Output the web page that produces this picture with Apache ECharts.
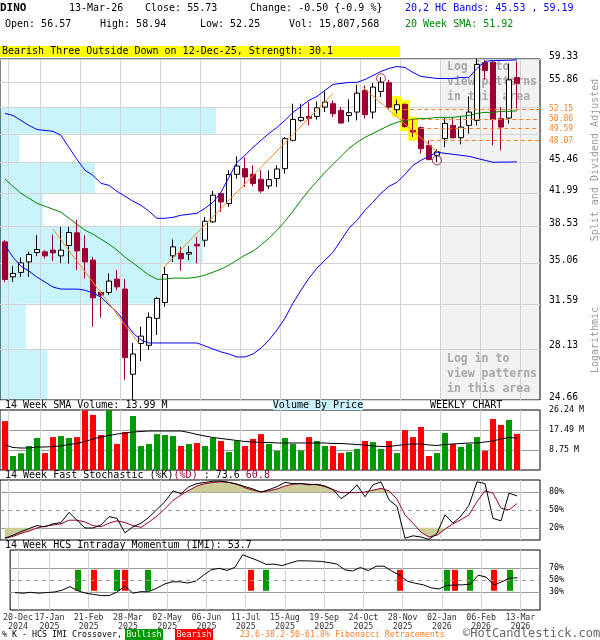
<!DOCTYPE html>
<html>
<head>
<meta charset="utf-8">
<title>DINO Weekly Chart</title>
<script src="https://cdn.jsdelivr.net/npm/echarts@6.0.0/dist/echarts.min.js"></script>
<style>
html,body{margin:0;padding:0;background:#fff;}
#chart{width:600px;height:640px;}
</style>
</head>
<body>
<div id="chart"></div>
<script>
// ---------------- data ----------------
const tickIdx = [0,4,9,14,19,24,29,34,39,44,49,54,59,64];
const tickLabels = ['20-Dec\n2024','17-Jan\n2025','21-Feb\n2025','28-Mar\n2025','02-May\n2025','06-Jun\n2025','11-Jul\n2025','15-Aug\n2025','19-Sep\n2025','24-Oct\n2025','28-Nov\n2025','02-Jan\n2026','06-Feb\n2026','13-Mar\n2026'];

const open  = [37.05,33.86,34.25,35.19,36.05,36.11,36.27,35.74,36.71,37.92,36.43,35.35,32.53,32.53,33.66,32.81,26.35,28.53,28.39,30.43,31.70,35.74,35.96,35.90,36.83,37.21,39.01,41.96,40.89,44.09,44.74,44.09,43.53,42.79,43.61,44.74,48.12,50.66,51.18,51.18,52.42,52.88,51.98,51.31,51.75,54.72,51.75,54.58,55.81,52.07,52.79,49.37,49.72,47.50,46.30,48.33,50.01,48.45,50.01,50.66,58.80,58.85,50.88,50.96,56.57];
const close = [33.63,34.16,35.10,35.87,36.33,35.74,36.02,36.27,37.95,36.20,35.19,32.08,32.31,33.49,33.00,27.50,27.76,29.07,30.51,32.03,34.07,36.58,35.47,36.05,36.67,39.07,41.78,41.06,44.06,45.04,43.79,43.05,42.24,43.49,44.70,48.33,50.79,51.05,50.92,52.34,53.10,51.54,50.31,51.67,54.34,51.40,55.19,55.90,52.42,52.74,49.88,49.16,47.10,45.79,46.72,50.26,48.45,49.79,51.75,58.50,57.60,50.75,49.79,56.23,55.73];
const high  = [37.21,34.81,35.59,36.11,37.70,36.27,37.76,38.50,38.50,39.24,37.70,35.65,32.60,34.16,34.45,33.66,28.55,29.78,30.90,32.16,34.74,37.28,36.58,36.64,37.53,39.51,42.24,42.05,44.55,46.18,46.03,45.13,44.55,44.55,45.13,48.53,52.88,52.88,53.10,53.19,54.58,53.33,52.42,53.47,55.53,55.43,55.76,56.62,56.25,53.43,52.92,50.66,49.88,48.12,47.02,51.09,51.09,51.09,53.88,59.33,59.20,59.10,52.42,58.65,58.94];
const low   = [33.40,33.43,33.86,33.86,35.71,35.50,35.26,35.10,35.05,34.45,33.72,29.78,30.48,32.31,32.72,25.97,24.66,27.26,28.05,29.15,31.35,35.19,34.39,35.35,35.05,36.58,38.93,40.02,40.54,43.61,42.68,42.75,42.02,42.46,42.68,44.17,47.99,50.44,50.01,50.75,51.75,51.09,50.26,50.44,50.66,50.88,50.88,53.79,52.20,51.54,49.72,48.53,46.50,45.71,45.50,47.30,48.33,47.63,48.96,50.01,56.30,47.50,46.90,50.26,52.25];

const volume = [21.4,6.1,7.3,10.5,14.0,7.4,14.4,14.9,14.0,14.4,26.0,24.1,15.3,26.24,11.4,16.6,23.6,10.5,11.4,15.7,15.3,14.9,10.5,11.4,11.8,10.5,14.0,12.7,7.9,12.7,10.5,13.6,15.7,11.4,8.3,14.0,11.4,8.5,14.4,12.7,10.5,10.5,7.4,7.9,9.2,12.7,12.2,9.2,12.7,7.4,17.5,14.4,18.8,6.1,7.4,16.2,11.4,10.1,11.4,14.4,8.3,22.3,19.7,21.9,15.81];
const volSma = [10.93,9.84,9.62,9.62,10.06,10.06,10.28,10.50,11.15,11.59,12.46,13.56,14.43,15.09,15.74,16.18,16.62,16.84,17.06,17.06,17.06,17.06,17.06,16.40,15.53,14.87,14.21,13.78,13.34,12.90,12.46,12.25,12.03,12.03,11.81,11.81,11.81,11.81,11.81,11.81,11.81,11.59,11.59,11.37,11.15,10.93,10.50,10.28,10.28,10.72,11.15,11.37,11.37,10.93,10.72,11.15,11.37,11.59,11.81,11.81,12.25,12.68,13.56,14.20,13.99];

const upperBand = [51.57,51.31,50.65,50.00,49.48,49.36,49.25,48.74,47.24,45.81,44.55,43.98,43.08,42.86,42.20,41.66,41.13,40.71,40.09,39.37,39.37,39.47,39.68,39.78,39.88,40.40,41.03,42.10,43.76,45.47,46.30,47.26,48.12,48.99,49.75,50.66,51.71,52.52,53.33,53.88,54.72,55.57,55.71,55.86,55.86,56.28,56.87,57.46,57.91,58.20,58.05,57.31,56.72,56.58,56.43,56.43,56.43,56.58,56.58,57.91,58.96,59.11,59.11,59.15,59.19];
const lowerBand = [36.74,35.62,34.81,34.36,33.84,33.41,32.98,32.81,32.81,32.81,32.72,32.47,32.14,31.49,30.92,30.14,29.30,28.78,28.56,28.56,28.56,28.56,28.56,28.56,28.56,28.34,28.12,27.91,27.76,27.55,27.55,27.76,28.19,28.78,29.53,30.45,31.65,32.72,33.75,34.63,35.35,36.08,37.21,38.37,39.17,40.19,41.03,41.99,42.75,43.19,44.09,45.12,45.71,46.18,46.66,46.54,46.42,46.30,46.18,45.94,45.71,45.48,45.50,45.50,45.53];
const sma20 = [43.53,42.75,41.99,41.45,40.92,40.61,40.30,39.99,39.37,38.77,38.18,37.79,37.31,36.83,36.27,35.62,35.08,34.54,34.01,33.66,33.66,33.75,33.75,33.75,33.84,34.01,34.27,34.54,34.90,35.35,35.80,36.18,36.74,37.40,38.18,39.07,40.09,41.24,42.31,43.31,44.32,45.24,46.18,47.14,47.87,48.49,48.99,49.50,50.01,50.40,50.66,50.79,50.92,50.92,51.05,51.05,51.05,51.18,51.31,51.58,51.71,51.71,51.85,51.85,51.92];

const stochK = [3,8,14,19,24,22,27,29,46,33,20,20,25,39,36,12,22,28,38,51,64,82,77,89,94,96,98,98,96,93,89,85,80,84,89,96,94,94,92,93,90,84,69,78,92,72,92,97,67,56,3,7,5,1,11,42,28,40,58,97,94,36,32,78,73.6];
const stochD = [3,6,11,15,20,23,25,27,33,33,30,24,22,28,32,29,24,21,30,40,52,66,75,83,90,94,96,97,96,93,87,83,80,82,85,90,93,94,93,92,89,84,79,79,79,80,83,86,82,68,42,28,13,5,8,18,27,34,42,64,82,78,53,50,60.8];
const imi = [29,28,29.5,28,29,30,33,39,32,28,26,24,24,30,40,28,30.5,30.5,36,43,47,47,45,48,58,67,69.5,66,71,92,87,82,76,76.5,74,78,82,82,81.5,81,79,76.5,67,65,71,65.5,73,73,65,58,48,44.5,42,37,35,41,41.5,42,43,58,55,41.5,47,53,53.7];
const crossBullish = [8,13,17,32,55,58,63];
const crossBearish = [10,14,30,49,56,61];

const priceTicks = [24.66,28.13,31.59,35.06,38.53,41.99,45.46,48.93,52.39,55.86,59.33];
const priceLabelTicks = [24.66,28.13,31.59,35.06,38.53,41.99,45.46,55.86,59.33];
const vbpVolume = [22,12,74,94,20,44,9,100,0,0]; // per price band (relative)
const fibLevels = [52.15,50.86,49.59,48.07];
const fibStartWeek = [49.8,49.4,51.9,53.1];
const trendLines = [
  [[6,38.28],[16.7,28.56]],
  [[19.75,34.63],[41,54.30]],
  [[44.75,55.14],[54.1,46.66]]
];
const patternWeeks = [49,50,51];
const peakWeek = 47, peakPrice = 56.45;
const troughWeek = 54, troughPrice = 45.70;
const loginStartWeek = 54.375;
const volTicks = [8.75,17.49,26.24];
const STOCH_HI = 80, STOCH_LO = 20;

// ---------------- chart ----------------
const L = Math.log;
const X_MIN = -0.625, X_MAX = 66.875;
const GRID_SHIFT = 0.375;
const MONO = '"DejaVu Sans Mono", monospace';
const xTickVals = tickIdx.map(i => i + GRID_SHIFT);
const idx = open.map((_, i) => i);

const grids = [
  {left:0, top:59, width:540, height:341},
  {left:0, top:410, width:540, height:60},
  {left:0, top:480, width:540, height:60},
  {left:0, top:550, width:540, height:60}
].map(g => Object.assign(g, {show:true, borderColor:'#000', borderWidth:1, backgroundColor:'rgba(0,0,0,0)'}));

function xAxisFor(g) {
  return {
    gridIndex:g, type:'value', min:X_MIN, max:X_MAX,
    axisLine:{show:false},
    axisTick:{show:false, customValues:xTickVals},
    axisLabel:{show:g===3, customValues:xTickVals,
      formatter:v => { const k = xTickVals.findIndex(t => Math.abs(t - v) < 1e-6); return k >= 0 ? tickLabels[k] : ''; },
      fontFamily:MONO, fontSize:8.3, color:'#333', lineHeight:9, margin:3},
    splitLine:{show:true, lineStyle:{color:'#d3d3d3', width:1}}
  };
}
function findTick(v, arr) {
  return arr.find(t => Math.abs(L(t) - v) < 1e-7);
}

const xAxes = [xAxisFor(0), xAxisFor(1), xAxisFor(2), xAxisFor(3),
  {gridIndex:0, type:'value', min:0, max:250, show:false}];

const yAxes = [
  {gridIndex:0, type:'value', position:'right', min:L(24.66), max:L(59.33),
   axisLine:{show:false}, axisTick:{show:false, customValues:priceTicks.map(L)},
   axisLabel:{customValues:priceLabelTicks.concat(fibLevels).map(L),
     formatter:v => {
       const f = findTick(v, fibLevels);
       if (f !== undefined) return '{f|' + f.toFixed(2) + '}';
       const p = findTick(v, priceTicks);
       return p === undefined ? '' : '{p|' + p.toFixed(2) + '}';
     },
     rich:{p:{fontFamily:MONO, fontSize:9.7, color:'#000', padding:[0,0,6,0]},
           f:{fontFamily:MONO, fontSize:8, color:'#ff7f27'}},
     margin:9},
   splitLine:{show:true, lineStyle:{color:'#d3d3d3'}}},
  {gridIndex:1, type:'value', position:'right', min:0, max:26.24,
   axisLine:{show:false}, axisTick:{show:false, customValues:[8.75,17.49]},
   axisLabel:{customValues:volTicks, formatter:v => v.toFixed(2) + ' M',
     fontFamily:MONO, fontSize:8.3, color:'#000', margin:9},
   splitLine:{show:true, lineStyle:{color:'#9a9a9a'}}},
  {gridIndex:2, type:'value', position:'right', min:0, max:100,
   axisLine:{show:false}, axisTick:{show:false, customValues:[STOCH_LO,STOCH_HI]},
   axisLabel:{customValues:[20,50,80], formatter:v => v + '%',
     fontFamily:MONO, fontSize:8.3, color:'#000', margin:9},
   splitLine:{show:true, lineStyle:{color:'#9a9a9a'}}},
  {gridIndex:3, type:'value', position:'right', min:0, max:100,
   axisLine:{show:false}, axisTick:{show:false, customValues:[30,70]},
   axisLabel:{customValues:[30,50,70], formatter:v => v + '%',
     fontFamily:MONO, fontSize:8.3, color:'#000', margin:9},
   splitLine:{show:true, lineStyle:{color:'#9a9a9a'}}}
];

function priceLine(arr, color, extra) {
  return Object.assign({type:'line', xAxisIndex:0, yAxisIndex:0, symbol:'none', silent:true,
    data:arr.map((v, i) => [i, L(v)]), lineStyle:{color, width:1}}, extra || {});
}
const dashed50 = {silent:true, symbol:['none','none'], label:{show:false},
  lineStyle:{color:'#9a9a9a', type:[4,4], width:1}, data:[{yAxis:50}]};

// polygon between a series segment and a threshold, beyond the threshold only
function beyondPoly(arr, i, thr, above) {
  const d0 = arr[i], d1 = arr[i + 1];
  const f0 = above ? d0 - thr : thr - d0, f1 = above ? d1 - thr : thr - d1;
  if (f0 <= 0 && f1 <= 0) return null;
  if (f0 > 0 && f1 > 0) return [[i, thr], [i, d0], [i + 1, d1], [i + 1, thr]];
  const xc = i + f0 / (f0 - f1);
  if (f0 > 0) return [[i, thr], [i, d0], [xc, thr]];
  return [[xc, thr], [i + 1, d1], [i + 1, thr]];
}

const series = [
  // login shaded area
  {type:'custom', xAxisIndex:0, yAxisIndex:0, z:-1, silent:true,
   data:[[loginStartWeek, L(59.33)]], encode:{x:0, y:1},
   renderItem:(params, api) => {
     const cs = params.coordSys;
     const x0 = Math.round(api.coord([api.value(0), api.value(1)])[0]) + 0.5;
     return {type:'group', children:[
       {type:'rect', shape:{x:x0, y:cs.y, width:cs.x + cs.width - x0, height:cs.height}, style:{fill:'#f2f2f2'}},
       {type:'line', shape:{x1:x0, y1:cs.y, x2:x0, y2:cs.y + cs.height}, style:{stroke:'#9a9a9a', lineWidth:1}, z2:10}
     ]};
   }},
  // volume by price
  {type:'custom', xAxisIndex:4, yAxisIndex:0, z:-1, silent:true,
   data:vbpVolume.map((v, k) => [v, L(priceTicks[k]), L(priceTicks[k + 1])]), encode:{x:0, y:[1,2]},
   renderItem:(params, api) => {
     const a = api.coord([0, api.value(2)]);
     const b = api.coord([api.value(0), api.value(1)]);
     return {type:'rect', shape:{x:a[0], y:a[1], width:b[0] - a[0], height:b[1] - a[1]}, style:{fill:'#c9f4fb'}};
   }},
  // pattern highlight
  {type:'custom', xAxisIndex:0, yAxisIndex:0, z:1, silent:true,
   data:patternWeeks.map(i => [i, L(low[i]) - 0.009, L(high[i]) + 0.009]), encode:{x:0, y:[1,2]},
   renderItem:(params, api) => {
     const a = api.coord([api.value(0) - 0.6, api.value(2)]);
     const b = api.coord([api.value(0) + 0.6, api.value(1)]);
     return {type:'rect', shape:{x:a[0], y:a[1], width:b[0] - a[0], height:b[1] - a[1]}, style:{fill:'#ffff00'}};
   }},
  priceLine(upperBand, '#0000ff'),
  priceLine(lowerBand, '#0000ff', {
    markLine:{silent:true, symbol:['none','none'], label:{show:false},
      data:fibLevels.map((f, k) => [{coord:[fibStartWeek[k], L(f)]}, {coord:[X_MAX, L(f)]}]),
      lineStyle:{color:'#ff7f27', type:[4,3], width:1}}
  }),
  priceLine(sma20, '#008800'),
  ...trendLines.map(t => ({type:'line', xAxisIndex:0, yAxisIndex:0, symbol:'none', silent:true,
    data:t.map(p => [p[0], L(p[1])]), lineStyle:{color:'#ff8c1a', width:1}})),
  {type:'candlestick', xAxisIndex:0, yAxisIndex:0, barWidth:5,
   data:idx.map(i => [i, L(open[i]), L(close[i]), L(low[i]), L(high[i])]),
   itemStyle:{color:'#ffffff', color0:'#990033', borderColor:'#000000', borderColor0:'#990033', borderWidth:1}},
  {type:'scatter', xAxisIndex:0, yAxisIndex:0, symbol:'circle', symbolSize:9, silent:true,
   data:[[peakWeek, L(peakPrice)], [troughWeek, L(troughPrice)]],
   itemStyle:{color:'rgba(0,0,0,0)', borderColor:'#990033', borderWidth:1}},
  // volume
  {type:'bar', xAxisIndex:1, yAxisIndex:1, barWidth:6, silent:true,
   data:idx.map(i => ({value:[i, volume[i]], itemStyle:{color: close[i] >= open[i] ? '#009900' : '#ff0000'}}))},
  {type:'line', xAxisIndex:1, yAxisIndex:1, symbol:'none', silent:true,
   data:volSma.map((v, i) => [i, v]), lineStyle:{color:'#000', width:1}},
  // stochastic: shaded extremes of %D
  {type:'custom', xAxisIndex:2, yAxisIndex:2, silent:true,
   data:idx.slice(0, -1).map(i => [i, stochD[i]]), encode:{x:0, y:1},
   renderItem:(params, api) => {
     const i = api.value(0);
     const children = [];
     [[STOCH_HI, true], [STOCH_LO, false]].forEach(([thr, above]) => {
       const poly = beyondPoly(stochD, i, thr, above);
       if (poly) children.push({type:'polygon', shape:{points:poly.map(p => api.coord(p))},
         style:{fill:'#cccc99', stroke:'#cccc99', lineWidth:0.5}});
     });
     return {type:'group', children};
   }},
  {type:'line', xAxisIndex:2, yAxisIndex:2, symbol:'none', silent:true,
   data:stochD.map((v, i) => [i, v]), lineStyle:{color:'#990033', width:1}, markLine:dashed50},
  {type:'line', xAxisIndex:2, yAxisIndex:2, symbol:'none', silent:true,
   data:stochK.map((v, i) => [i, v]), lineStyle:{color:'#000', width:1}},
  // IMI
  {type:'custom', xAxisIndex:3, yAxisIndex:3, silent:true,
   data:crossBullish.map(i => [i, 32, 67, 1]).concat(crossBearish.map(i => [i, 32, 67, 0])), encode:{x:0, y:[1,2]},
   renderItem:(params, api) => {
     const a = api.coord([api.value(0), api.value(2)]);
     const b = api.coord([api.value(0), api.value(1)]);
     return {type:'rect', shape:{x:Math.round(a[0]) - 3, y:a[1], width:6, height:b[1] - a[1]},
       style:{fill: api.value(3) ? '#009900' : '#ff0000'}};
   }},
  {type:'line', xAxisIndex:3, yAxisIndex:3, symbol:'none', silent:true,
   data:imi.map((v, i) => [i, v]), lineStyle:{color:'#000', width:1}, markLine:dashed50}
];

function txt(x, y, text, o) {
  o = o || {};
  return {type:'text', x, y, z:o.z == null ? 10 : o.z, rotation:o.rotation || 0, silent:true,
    style:{text, font:(o.weight || 'normal') + ' ' + (o.size || 10) + 'px ' + MONO,
      fill:o.color || '#000', verticalAlign:'middle', align:o.align || 'left', rich:o.rich}};
}
function box(x, y, w, h, fill, z) {
  return {type:'rect', z:z == null ? 5 : z, silent:true, shape:{x, y, width:w, height:h}, style:{fill}};
}

const stochTitle = txt(5, 475.5, '{a|14 Week Fast Stochastic (%K)}{b|(%D)}{a| : 73.6 }{b|60.8}',
  {rich:{a:{fill:'#000', font:'10px ' + MONO}, b:{fill:'#990033', font:'10px ' + MONO}}});

const graphics = [
  txt(0, 8, 'DINO', {weight:'bold', size:11}),
  txt(69, 8, '13-Mar-26'),
  txt(145, 8, 'Close: 55.73'),
  txt(250, 8, 'Change: -0.50 {-0.9 %}'),
  txt(405, 8, '20,2 HC Bands: 45.53 , 59.19', {color:'#0000ff'}),
  txt(5, 24, 'Open: 56.57'),
  txt(100, 24, 'High: 58.94'),
  txt(200, 24, 'Low: 52.25'),
  txt(289, 24, 'Vol: 15,807,568'),
  txt(405, 24, '20 Week SMA: 51.92', {color:'#008800'}),
  box(0, 46, 400, 11, '#ffff00'),
  txt(2, 51.5, 'Bearish Three Outside Down on 12-Dec-25, Strength: 30.1'),
  txt(595, 160, 'Split and Dividend Adjusted', {color:'#999', rotation:Math.PI / 2, align:'center'}),
  txt(595, 340, 'Logarithmic', {color:'#999', rotation:Math.PI / 2, align:'center'}),
  txt(447, 67, 'Log in to', {weight:'bold', size:11.5, color:'#a8a8a8', z:1}),
  txt(447, 82, 'view patterns', {weight:'bold', size:11.5, color:'#a8a8a8', z:1}),
  txt(447, 97, 'in this area', {weight:'bold', size:11.5, color:'#a8a8a8', z:1}),
  txt(447, 359, 'Log in to', {weight:'bold', size:11.5, color:'#a8a8a8', z:1}),
  txt(447, 374, 'view patterns', {weight:'bold', size:11.5, color:'#a8a8a8', z:1}),
  txt(447, 389, 'in this area', {weight:'bold', size:11.5, color:'#a8a8a8', z:1}),
  txt(5, 405.5, '14 Week SMA Volume: 13.99 M'),
  box(273, 400.5, 90, 9.5, '#c9f4fb'),
  txt(318, 405.5, 'Volume By Price', {align:'center'}),
  txt(430, 405.5, 'WEEKLY CHART'),
  stochTitle,
  txt(5, 545.5, '14 Week HCS Intraday Momentum (IMI): 53.7'),
  txt(2, 635, '% K - HCS IMI Crossover,', {size:8.3}),
  box(125, 629, 38, 12, '#009900'),
  txt(144, 635, 'Bullish', {size:8.3, color:'#fff', align:'center'}),
  box(175, 629, 38, 12, '#ff0000'),
  txt(194, 635, 'Bearish', {size:8.3, color:'#fff', align:'center'}),
  txt(240, 635, '23.6-38.2-50-61.8% Fibonacci Retracements', {size:8.3, color:'#ff7f27'}),
  txt(463, 634, '©HotCandlestick.com', {size:12, color:'#666'})
];

const chart = echarts.init(document.getElementById('chart'), null, {renderer:'canvas'});
chart.setOption({
  animation:false,
  backgroundColor:'#fff',
  grid:grids,
  xAxis:xAxes,
  yAxis:yAxes,
  series:series,
  graphic:{elements:graphics}
});
</script>
</body>
</html>
